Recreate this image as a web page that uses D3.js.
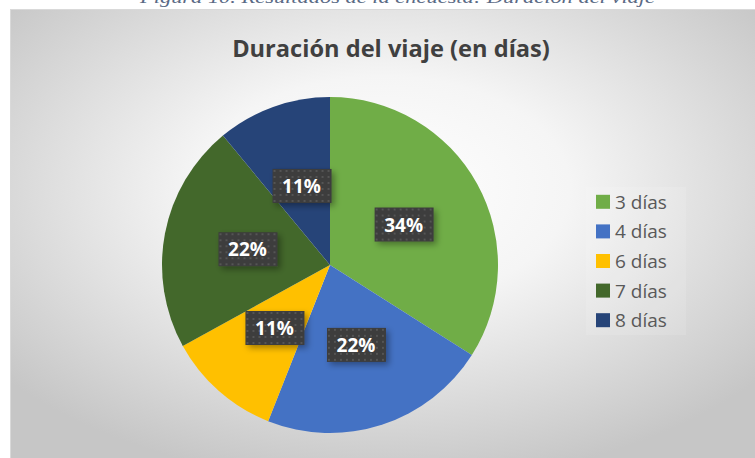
<!DOCTYPE html>
<html>
<head>
<meta charset="utf-8">
<script src="https://cdn.jsdelivr.net/npm/d3@7"></script>
<style>
  body { margin: 0; background: #ffffff; }
  svg { display: block; }
</style>
</head>
<body>
<div id="chart"></div>
<script>
// ---------------------------------------------------------------
// DATA
// ---------------------------------------------------------------
var categories = ["3 días", "4 días", "6 días", "7 días", "8 días"];
var values = [34, 22, 11, 22, 11];
var colors = ["#70AD47", "#4472C4", "#FFC000", "#43682B", "#264478"];
var chartTitle = "Duración del viaje (en días)";
var caption = "Figura 10. Resultados de la encuesta: Duración del viaje";

function chartPie_Draw(ele) {
    ele = "#" + ele;
    d3.select(ele).selectAll("svg").remove();

    var w = 755, h = 458;
    var svg = d3.select(ele).append("svg").attr("width", w).attr("height", h);
    var defs = svg.append("defs");

    // Background gradient
    var grad = defs.append("radialGradient")
        .attr("id", "bg")
        .attr("cx", "50%").attr("cy", "40%").attr("r", "66%");
    grad.append("stop").attr("offset", "0%").attr("stop-color", "#ffffff");
    grad.append("stop").attr("offset", "38%").attr("stop-color", "#f5f5f5");
    grad.append("stop").attr("offset", "100%").attr("stop-color", "#c6c6c6");

    // Dotted label pattern
    var pat = defs.append("pattern")
        .attr("id", "dots").attr("width", 6).attr("height", 6)
        .attr("patternUnits", "userSpaceOnUse");
    pat.append("rect").attr("width", 6).attr("height", 6).attr("fill", "#3c3c3c");
    pat.append("rect").attr("x", 2).attr("y", 2).attr("width", 2).attr("height", 2).attr("fill", "#545454");

    var shadow = defs.append("filter").attr("id", "shadow")
        .attr("x", "-20%").attr("y", "-20%").attr("width", "160%").attr("height", "160%");
    shadow.append("feDropShadow").attr("dx", 3).attr("dy", 3).attr("stdDeviation", 3)
        .attr("flood-color", "#000").attr("flood-opacity", 0.35);

    // Caption (cut off at top, as in the source)
    svg.append("text")
        .attr("x", 140).attr("y", 3)
        .attr("font-family", "'Liberation Serif', serif")
        .attr("font-style", "italic")
        .attr("font-size", "17px")
        .attr("fill", "#5a6a85")
        .attr("textLength", 515)
        .attr("lengthAdjust", "spacingAndGlyphs")
        .text(caption);

    // Chart area
    svg.append("rect")
        .attr("x", 10.5).attr("y", 9.5)
        .attr("width", w - 10).attr("height", h - 9)
        .attr("fill", "url(#bg)")
        .attr("stroke", "#d9d9d9");

    // Title
    var title = svg.append("text")
        .attr("x", 391).attr("y", 57)
        .attr("text-anchor", "middle")
        .attr("font-family", "'Open Sans', sans-serif")
        .attr("font-weight", "bold")
        .attr("font-size", "22px")
        .attr("fill", "#404040")
        .text(chartTitle);
    var tl = title.node().getComputedTextLength();
    title.attr("font-size", (22 * 318 / tl) + "px");

    // Pie
    var cx = 330, cy = 265, radius = 168;
    var pie = d3.pie().sort(null).value(function(d) { return d; });
    var arcs = pie(values);
    var arc = d3.arc().innerRadius(0).outerRadius(radius);
    var labelArc = d3.arc().innerRadius(radius * 0.5).outerRadius(radius * 0.5);

    var g = svg.append("g").attr("transform", "translate(" + cx + "," + cy + ")");
    g.selectAll(".slice")
        .data(arcs)
        .enter()
        .append("path")
        .attr("class", "slice")
        .attr("d", arc)
        .attr("fill", function(d, i) { return colors[i]; });

    // Labels
    var total = d3.sum(values);
    var lbl = g.selectAll(".lbl")
        .data(arcs)
        .enter()
        .append("g")
        .attr("class", "lbl")
        .attr("transform", function(d) { var c = labelArc.centroid(d); return "translate(" + c[0] + "," + c[1] + ")"; });
    lbl.append("rect")
        .attr("x", -29).attr("y", -17)
        .attr("width", 59).attr("height", 34)
        .attr("fill", "url(#dots)")
        .attr("filter", "url(#shadow)");
    lbl.append("text")
        .attr("text-anchor", "middle")
        .attr("y", 7)
        .attr("font-family", "'Open Sans', sans-serif")
        .attr("font-weight", "bold")
        .attr("font-size", "19px")
        .attr("fill", "#ffffff")
        .text(function(d) { return Math.round(d.value / total * 100) + "%"; });

    // Legend
    var y = d3.scaleBand().domain(categories).range([187, 335]);
    var leg = svg.append("g");
    leg.append("rect")
        .attr("x", 586).attr("y", 187).attr("width", 100).attr("height", 148)
        .attr("fill", "#ffffff").attr("fill-opacity", 0.12);
    var items = leg.selectAll(".item")
        .data(categories)
        .enter()
        .append("g")
        .attr("class", "item")
        .attr("transform", function(d) { return "translate(596," + (y(d) + y.bandwidth() / 2) + ")"; });
    items.append("rect")
        .attr("x", 0).attr("y", -7)
        .attr("width", 14).attr("height", 14)
        .attr("fill", function(d, i) { return colors[i]; });
    items.append("text")
        .attr("x", 19).attr("y", 7)
        .attr("font-family", "'Open Sans', sans-serif")
        .attr("font-size", "19px")
        .attr("fill", "#595959")
        .text(function(d) { return d; });
}

chartPie_Draw("chart");
</script>
</body>
</html>
